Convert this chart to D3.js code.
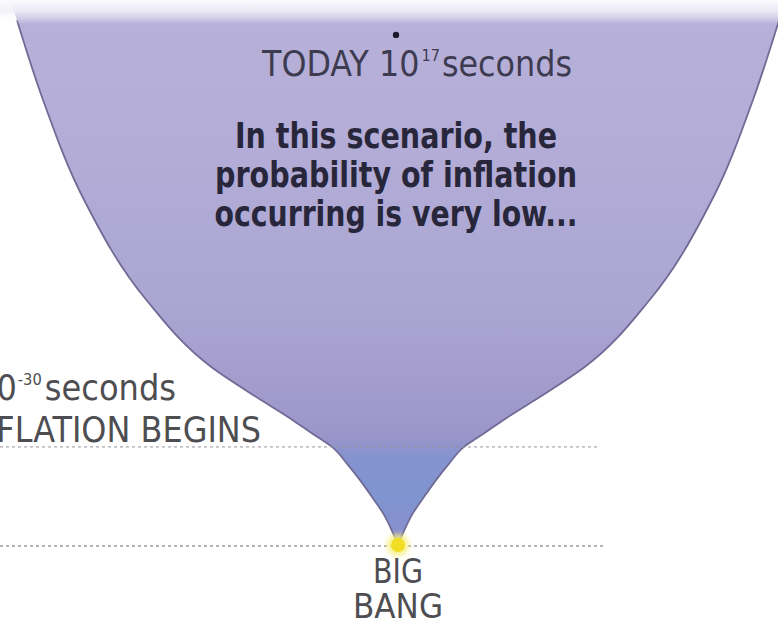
<!DOCTYPE html>
<html lang="en">
<head>
    <meta charset="utf-8">
    <script src="https://cdn.jsdelivr.net/npm/d3@7"></script>
    <style type="text/css">
        body { margin: 0; background: #ffffff; }
        svg { display: block; }
        .lbl { font-family: "DejaVu Sans Condensed", "DejaVu Sans", "Liberation Sans Narrow", sans-serif; }
    </style>
</head>
<body>
    <script>
        // funnel profile: level (0 = big bang, 100 = top of picture) and half width (0..100)
        const levels     = [0, 2.2, 5.9, 8.3, 11.9, 14.7, 18.0, 20.6, 22.9, 26.6, 32.7, 45.0, 63.3, 81.7, 96.3, 100];
        const halfWidths = [0, 1.3, 3.9, 6.2, 9.8, 12.9, 17.0, 22.4, 27.1, 35.3, 48.2, 64.9, 80.9, 91.5, 98.2, 100];

        // marked moments
        const inflationLevel = 18.0;
        const bigBangLevel = 0;
        const todayLevel = 93.6;

        const todayLabel = ["TODAY 10", "17", "seconds"];
        const inflationLabel = ["10", "-30", "seconds", "INFLATION BEGINS"];
        const scenarioLines = ["In this scenario, the", "probability of inflation", "occurring is very low..."];
        const bigBangLines = ["BIG", "BANG"];

        let w = 778;
        let h = 623;

        let svg = d3.select("body")
                    .append("svg")
                    .attr("width", w)
                    .attr("height", h);

        let xScale = d3.scaleLinear().domain([-100, 100]).range([10, 786]);
        let yScale = d3.scaleLinear().domain([0, 100]).range([545, 0]);

        let defs = svg.append("defs");

        let fill = defs.append("linearGradient")
                       .attr("id", "funnelFill")
                       .attr("gradientUnits", "userSpaceOnUse")
                       .attr("x1", 0).attr("y1", 0).attr("x2", 0).attr("y2", h);
        [[0, "#b8b2da"], [0.25, "#b2acd7"], [0.5, "#aba5d2"], [0.68, "#9e97ca"],
         [0.7, "#9a95c9"], [0.735, "#8493cf"], [0.8, "#7f94d0"], [0.87, "#8a8fcc"]]
            .forEach((s) => {
                fill.append("stop").attr("offset", s[0]).attr("stop-color", s[1]);
            });

        let fade = defs.append("linearGradient")
                       .attr("id", "topFade")
                       .attr("x1", 0).attr("y1", 0).attr("x2", 0).attr("y2", 1);
        fade.append("stop").attr("offset", 0).attr("stop-color", "#fbfbfe").attr("stop-opacity", 1);
        fade.append("stop").attr("offset", 0.45).attr("stop-color", "#f1f0f8").attr("stop-opacity", 0.9);
        fade.append("stop").attr("offset", 1).attr("stop-color", "#ffffff").attr("stop-opacity", 0);

        let glow = defs.append("filter").attr("id", "glow")
                       .attr("x", "-100%").attr("y", "-100%").attr("width", "300%").attr("height", "300%");
        glow.append("feGaussianBlur").attr("stdDeviation", 2.5);

        let soft = defs.append("filter").attr("id", "soft");
        soft.append("feGaussianBlur").attr("stdDeviation", 0.6);

        let profile = levels.map((l, i) => ({ level: l, hw: halfWidths[i] }));

        let area = d3.area()
                     .curve(d3.curveMonotoneY)
                     .y((d) => yScale(d.level))
                     .x0((d) => xScale(-d.hw))
                     .x1((d) => xScale(d.hw));

        svg.append("path")
           .datum(profile)
           .attr("d", area)
           .attr("fill", "url(#funnelFill)");

        // edges
        [-1, 1].forEach((side) => {
            let edge = d3.line()
                         .curve(d3.curveMonotoneY)
                         .y((d) => yScale(d.level))
                         .x((d) => xScale(side * d.hw));
            svg.append("path")
               .datum(profile.filter((d) => d.level < 97))
               .attr("d", edge)
               .attr("fill", "none")
               .attr("stroke", "#6f6b95")
               .attr("stroke-width", 1.8)
               .attr("filter", "url(#soft)");
        });

        // white fade across the top
        svg.append("rect")
           .attr("x", 0).attr("y", 0)
           .attr("width", w).attr("height", 24)
           .attr("fill", "url(#topFade)");

        // dotted time lines
        svg.append("line")
           .attr("x1", 0).attr("x2", 600)
           .attr("y1", yScale(inflationLevel)).attr("y2", yScale(inflationLevel))
           .attr("stroke", "#8f8f99")
           .attr("stroke-opacity", 0.55)
           .attr("stroke-width", 1.8)
           .attr("stroke-dasharray", "3,3");

        svg.append("line")
           .attr("x1", 0).attr("x2", 606)
           .attr("y1", yScale(bigBangLevel) + 1).attr("y2", yScale(bigBangLevel) + 1)
           .attr("stroke", "#8a8a8a")
           .attr("stroke-opacity", 0.65)
           .attr("stroke-width", 1.8)
           .attr("stroke-dasharray", "3,3");

        // big bang point
        svg.append("circle")
           .attr("cx", xScale(0)).attr("cy", yScale(bigBangLevel))
           .attr("r", 11)
           .attr("fill", "#f7ef7a")
           .attr("opacity", 0.85)
           .attr("filter", "url(#glow)");
        svg.append("circle")
           .attr("cx", xScale(0)).attr("cy", yScale(bigBangLevel))
           .attr("r", 7)
           .attr("fill", "#f1de22");

        // today point
        svg.append("circle")
           .attr("cx", xScale(0) - 2).attr("cy", yScale(todayLevel))
           .attr("r", 3.2)
           .attr("fill", "#1b1a2a");

        // labels
        let today = svg.append("text")
                       .attr("class", "lbl")
                       .attr("x", 262).attr("y", 76)
                       .attr("fill", "#3d3b50")
                       .attr("font-size", 35)
                       .attr("textLength", 310)
                       .attr("lengthAdjust", "spacingAndGlyphs");
        today.append("tspan").text(todayLabel[0]);
        today.append("tspan").attr("font-size", 16).attr("dy", -15).attr("dx", 2).text(todayLabel[1]);
        today.append("tspan").attr("dy", 15).attr("dx", 2).text(todayLabel[2]);

        svg.selectAll("text.scenario")
           .data(scenarioLines)
           .enter()
           .append("text")
           .attr("class", "lbl scenario")
           .attr("x", 396)
           .attr("y", (d, i) => 148 + i * 39)
           .attr("text-anchor", "middle")
           .attr("font-weight", "bold")
           .attr("font-size", 35)
           .attr("fill", "#27263a")
           .attr("textLength", (d, i) => [322, 362, 363][i])
           .attr("lengthAdjust", "spacingAndGlyphs")
           .text((d) => d);

        let secs = svg.append("text")
                      .attr("class", "lbl")
                      .attr("x", 176).attr("y", 400)
                      .attr("text-anchor", "end")
                      .attr("fill", "#4e4e52")
                      .attr("font-size", 35)
                      .attr("textLength", 200)
                      .attr("lengthAdjust", "spacingAndGlyphs");
        secs.append("tspan").text(inflationLabel[0]);
        secs.append("tspan").attr("font-size", 16).attr("dy", -15).attr("dx", 1).text(inflationLabel[1]);
        secs.append("tspan").attr("dy", 15).attr("dx", 3).text(inflationLabel[2]);

        svg.append("text")
           .attr("class", "lbl")
           .attr("x", 261).attr("y", 442)
           .attr("text-anchor", "end")
           .attr("fill", "#4e4e52")
           .attr("font-size", 35)
           .attr("textLength", 298)
           .attr("lengthAdjust", "spacingAndGlyphs")
           .text(inflationLabel[3]);

        svg.selectAll("text.bang")
           .data(bigBangLines)
           .enter()
           .append("text")
           .attr("class", "lbl bang")
           .attr("x", 398)
           .attr("y", (d, i) => 583 + i * 35)
           .attr("text-anchor", "middle")
           .attr("font-size", 33)
           .attr("fill", "#4e4e52")
           .attr("textLength", (d, i) => [50, 90][i])
           .attr("lengthAdjust", "spacingAndGlyphs")
           .text((d) => d);
    </script>
</body>
</html>
